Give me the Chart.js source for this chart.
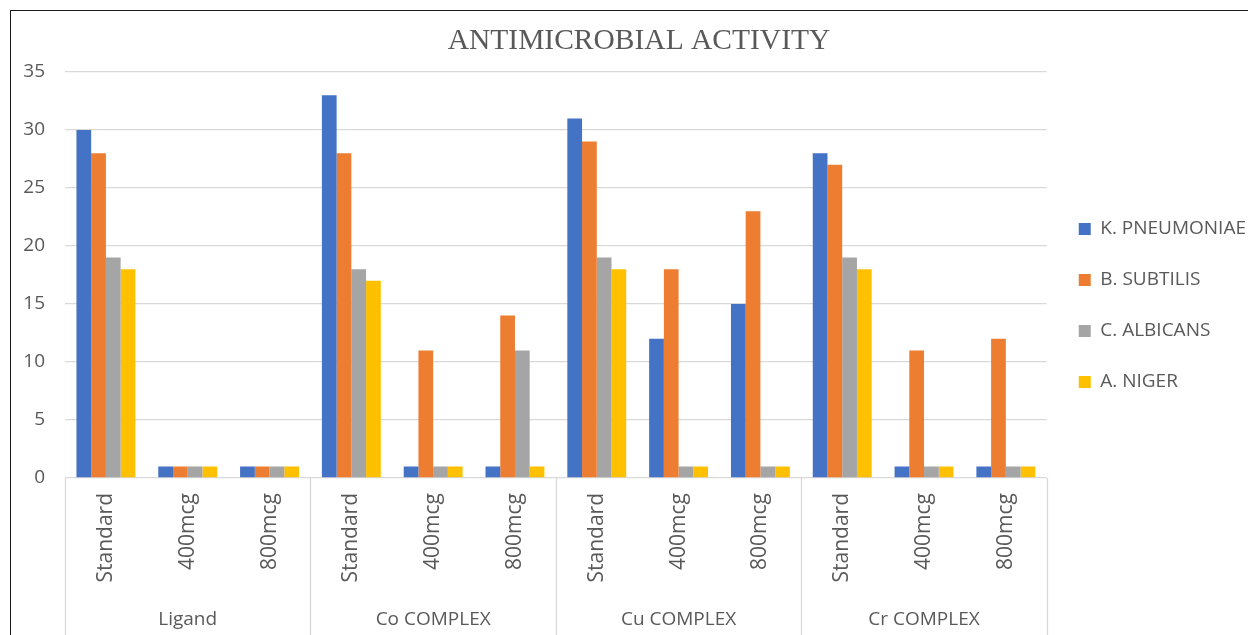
<!DOCTYPE html>
<html>
<head>
<meta charset="utf-8">
<title>Antimicrobial Activity</title>
<script src="https://cdn.jsdelivr.net/npm/chart.js@4/dist/chart.umd.min.js"></script>
<style>
  html, body { margin: 0; padding: 0; background: #ffffff; }
  #wrap { position: relative; width: 1248px; height: 635px; overflow: hidden; }
  #wrap canvas { position: absolute; left: 0; top: 0; }
  #frame {
    position: absolute; left: 10px; top: 10px; width: 1400px; height: 800px;
    border-left: 1.5px solid #1a1a1a; border-top: 1.5px solid #1a1a1a;
    pointer-events: none;
  }
</style>
</head>
<body>
<div id="wrap">
  <canvas id="chart" width="1248" height="635"></canvas>
  <div id="frame"></div>
</div>
<script>
// Compound groups and the three dose levels tested for each
const groups = ['Ligand', 'Co COMPLEX', 'Cu COMPLEX', 'Cr COMPLEX'];
const doses = ['Standard', '400mcg', '800mcg'];
const categories = groups.flatMap(() => doses);

// Zone of inhibition per organism, in category order
const kPneumoniae = [30, 1, 1, 33, 1, 1, 31, 12, 15, 28, 1, 1];
const bSubtilis   = [28, 1, 1, 28, 11, 14, 29, 18, 23, 27, 11, 12];
const cAlbicans   = [19, 1, 1, 18, 1, 11, 19, 1, 1, 19, 1, 1];
const aNiger      = [18, 1, 1, 17, 1, 1, 18, 1, 1, 18, 1, 1];

const seriesNames = ['K. PNEUMONIAE', 'B. SUBTILIS', 'C. ALBICANS', 'A. NIGER'];
const seriesColors = ['#4472C4', '#ED7D31', '#A5A5A5', '#FFC000'];

const yMin = 0, yMax = 35, yStep = 5;

const TEXT = '#595959';
const GRID = '#d9d9d9';
const SANS = '"Open Sans", "Noto Sans", sans-serif';

// Box lines of the two-level category axis: a frame per compound group
const groupFrame = {
  id: 'groupFrame',
  afterDraw(chart) {
    const { ctx, chartArea, scales: { x } } = chart;
    const step = x.getPixelForValue(1) - x.getPixelForValue(0);
    ctx.save();
    ctx.strokeStyle = GRID;
    ctx.lineWidth = 1.3;
    ctx.beginPath();
    for (let g = 0; g <= groups.length; g++) {
      const px = Math.round(x.getPixelForValue(g * doses.length) - step / 2) + 0.5;
      ctx.moveTo(px, chartArea.bottom);
      ctx.lineTo(px, chart.height);
    }
    ctx.stroke();
    ctx.restore();
  }
};

// Fixed band sizes for the axes so the plot sits in a stable frame
const fixHeight = (h) => (scale) => {
  scale.height = h;
  scale.paddingLeft = 0;
  scale.paddingRight = 0;
};

const data = {
  labels: categories,
  datasets: [kPneumoniae, bSubtilis, cAlbicans, aNiger].map((values, i) => ({
    label: seriesNames[i],
    data: values,
    backgroundColor: seriesColors[i],
    borderWidth: 0,
    categoryPercentage: 0.72,
    barPercentage: 1.0
  }))
};

new Chart(document.getElementById('chart'), {
  type: 'bar',
  data,
  plugins: [groupFrame],
  options: {
    responsive: false,
    animation: false,
    layout: { padding: { left: 22, right: -8, top: 0, bottom: 0 } },
    plugins: {
      title: {
        display: true,
        text: 'ANTIMICROBIAL ACTIVITY',
        color: TEXT,
        font: { family: '"Liberation Serif", "Times New Roman", serif', size: 29.5, weight: 'normal' },
        padding: { top: 24, bottom: 12.6 }
      },
      legend: {
        position: 'right',
        fullSize: false,
        title: { display: true, text: ' ', font: { size: 40, lineHeight: 1 }, padding: { top: 0, bottom: 21 } },
        labels: {
          color: TEXT,
          font: { family: SANS, size: 19 },
          boxWidth: 12,
          boxHeight: 12,
          padding: 32
        }
      },
      tooltip: { enabled: false }
    },
    scales: {
      x: {
        type: 'category',
        position: 'bottom',
        offset: true,
        grid: { display: false },
        border: { display: false },
        afterFit: fixHeight(112),
        ticks: {
          color: TEXT,
          font: { family: SANS, size: 21 },
          minRotation: 90,
          maxRotation: 90,
          autoSkip: false,
          padding: 7
        }
      },
      groups: {
        type: 'category',
        position: 'bottom',
        labels: groups,
        offset: true,
        grid: { display: false },
        border: { display: false },
        afterFit: fixHeight(45),
        ticks: {
          color: TEXT,
          font: { family: SANS, size: 19 },
          maxRotation: 0,
          autoSkip: false,
          padding: 10
        }
      },
      y: {
        min: yMin,
        max: yMax,
        border: { display: false },
        grid: { color: GRID, lineWidth: 1.3, drawTicks: false },
        afterFit: (scale) => { scale.width = 43; },
        ticks: {
          stepSize: yStep,
          color: TEXT,
          font: { family: SANS, size: 19 },
          padding: 20
        }
      }
    }
  }
});
</script>
</body>
</html>
